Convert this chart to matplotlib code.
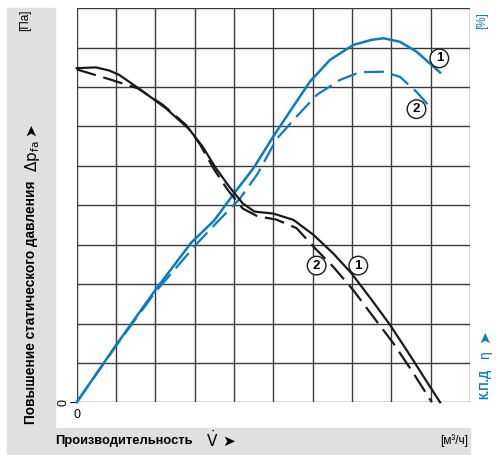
import numpy as np
import matplotlib
matplotlib.use('Agg')
import matplotlib.pyplot as plt
from matplotlib.patches import Rectangle

BLUE = '#0a7cc4'
BLACK = '#1a1a1a'
FAM = ['Liberation Sans', 'DejaVu Sans']

# pressure curves (grid units: 10 x 10 cells)
p1_x = [0.0, 0.49, 0.83, 1.08, 1.63, 2.27, 2.86, 3.2, 3.54, 3.88, 4.22, 4.52, 5.0, 5.51, 6.02, 6.52, 6.99, 7.5, 7.97, 8.47, 8.98, 9.24]
p1_y = [8.48, 8.5, 8.42, 8.31, 7.93, 7.46, 6.93, 6.49, 5.94, 5.47, 5.05, 4.84, 4.79, 4.63, 4.25, 3.78, 3.27, 2.6, 1.96, 1.2, 0.4, 0.0]
p2_x = [0.0, 0.83, 1.55, 2.19, 2.78, 3.12, 3.5, 3.84, 4.22, 4.6, 5.07, 5.59, 6.02, 6.52, 7.03, 7.54, 8.05, 8.56, 9.03]
p2_y = [8.45, 8.2, 7.97, 7.55, 7.04, 6.57, 5.9, 5.39, 4.92, 4.72, 4.64, 4.42, 3.95, 3.44, 2.85, 2.17, 1.5, 0.74, 0.0]
# efficiency curves
e1_x = [0.0, 1.0, 2.0, 2.91, 3.5, 4.0, 4.5, 5.0, 5.42, 5.93, 6.44, 7.03, 7.5, 7.8, 8.22, 8.64, 8.98, 9.24]
e1_y = [0.0, 1.45, 2.85, 4.05, 4.62, 5.3, 5.95, 6.75, 7.38, 8.14, 8.69, 9.07, 9.2, 9.24, 9.15, 8.9, 8.6, 8.37]
e2_x = [0.0, 1.0, 2.0, 3.03, 3.55, 4.15, 4.6, 5.08, 5.59, 6.1, 6.69, 7.2, 7.8, 8.22, 8.64, 8.98, 9.03]
e2_y = [0.0, 1.43, 2.8, 4.0, 4.55, 5.17, 5.8, 6.68, 7.25, 7.8, 8.18, 8.38, 8.39, 8.26, 7.88, 7.5, 7.42]

labels = [('1', 9.22, 8.73), ('2', 8.64, 7.44), ('2', 6.1, 3.47), ('1', 7.16, 3.47)]

W, H = 496, 455
fig = plt.figure(figsize=(W / 100, H / 100), dpi=100)

# grey L-shaped frame
fig.patches.append(Rectangle((7 / W, 1 - 428 / H), 48 / W, 420 / H, transform=fig.transFigure,
                             color='#e0e0e0', zorder=0))
fig.patches.append(Rectangle((7 / W, 1 - 454 / H), 463 / W, 26 / H, transform=fig.transFigure,
                             color='#e0e0e0', zorder=0))

ax = fig.add_axes([76.7 / W, 1 - 402.3 / H, 393.3 / W, 394 / H])
ax.set_xlim(0, 10)
ax.set_ylim(0, 10)
for i in range(11):
    ax.axvline(i, color='#3a3a3a', lw=1.0, zorder=1)
    ax.axhline(i, color='#3a3a3a', lw=1.0, zorder=1)
for s in ax.spines.values():
    s.set_visible(False)

ax.set_xticks([0])
ax.set_xticklabels(['0'], fontsize=9, family=FAM)
ax.set_yticks([0])
ax.set_yticklabels(['0'], fontsize=9, family=FAM, rotation=90, va='center')
ax.tick_params(axis='x', length=0, pad=5)
ax.tick_params(axis='y', length=5, width=0.8, pad=0.5)

ax.plot(e1_x, e1_y, color=BLUE, lw=1.8, zorder=3, clip_on=False)
ax.plot(e2_x, e2_y, color=BLUE, lw=1.6, dashes=(9, 3.5), zorder=3, clip_on=False)
ax.plot(p1_x, p1_y, color=BLACK, lw=1.6, zorder=3, clip_on=False)
ax.plot(p2_x, p2_y, color=BLACK, lw=1.6, dashes=(9, 3.5), zorder=3, clip_on=False)

for t, x, y in labels:
    ax.text(x, y, t, ha='center', va='center', fontsize=9.5, fontweight='bold', family=FAM, zorder=5,
            bbox=dict(boxstyle='circle,pad=0.25', fc='white', ec=BLACK, lw=1.0))

renderer = fig.canvas.get_renderer()


def fit(t, target, vertical=False):
    bb = t.get_window_extent(renderer)
    length = bb.height if vertical else bb.width
    t.set_fontsize(t.get_fontsize() * target / length)


# left axis title
fig.text(25 / W, 1 - 20 / H, '[Па]', rotation=90, ha='center', va='center', fontsize=8.5, family=FAM)
t = fig.text(31 / W, 1 - 424 / H, 'Повышение статического давления', rotation=90, ha='center', va='bottom',
             fontsize=12, fontweight='bold', family=FAM)
fit(t, 242, vertical=True)
fig.text(32 / W, 1 - 156 / H, r'$\Delta \mathregular{p_{fa}}$', rotation=90, ha='center', va='center', fontsize=11)
fig.text(31 / W, 1 - 130 / H, '➤', rotation=90, ha='center', va='center', fontsize=11, family=['DejaVu Sans'])

# bottom axis title
t = fig.text(55 / W, 1 - 441 / H, 'Производительность', ha='left', va='center',
             fontsize=12, fontweight='bold', family=FAM)
fit(t, 137)
fig.text(212 / W, 1 - 440 / H, r'$\dot{\mathregular{V}}$', ha='center', va='center', fontsize=11)
fig.text(229 / W, 1 - 441 / H, '➤', ha='center', va='center', fontsize=11, family=['DejaVu Sans'])
fig.text(468 / W, 1 - 441 / H, '[м³/ч]', ha='right', va='center', fontsize=8.5, family=FAM)

# right axis title
fig.text(482 / W, 1 - 21 / H, '[%]', rotation=90, ha='center', va='center', fontsize=8.5, family=FAM, color=BLUE)
t = fig.text(485 / W, 1 - 399 / H, 'К.П.Д', rotation=90, ha='center', va='bottom', fontsize=12,
             fontweight='bold', family=FAM, color=BLUE)
fit(t, 30, vertical=True)
fig.text(485 / W, 1 - 355 / H, 'η', rotation=90, ha='center', va='center', fontsize=10, family=FAM, color=BLUE)
fig.text(485 / W, 1 - 337 / H, '➤', rotation=90, ha='center', va='center', fontsize=11,
         family=['DejaVu Sans'], color=BLUE)

fig.savefig('out.png', dpi=100)
